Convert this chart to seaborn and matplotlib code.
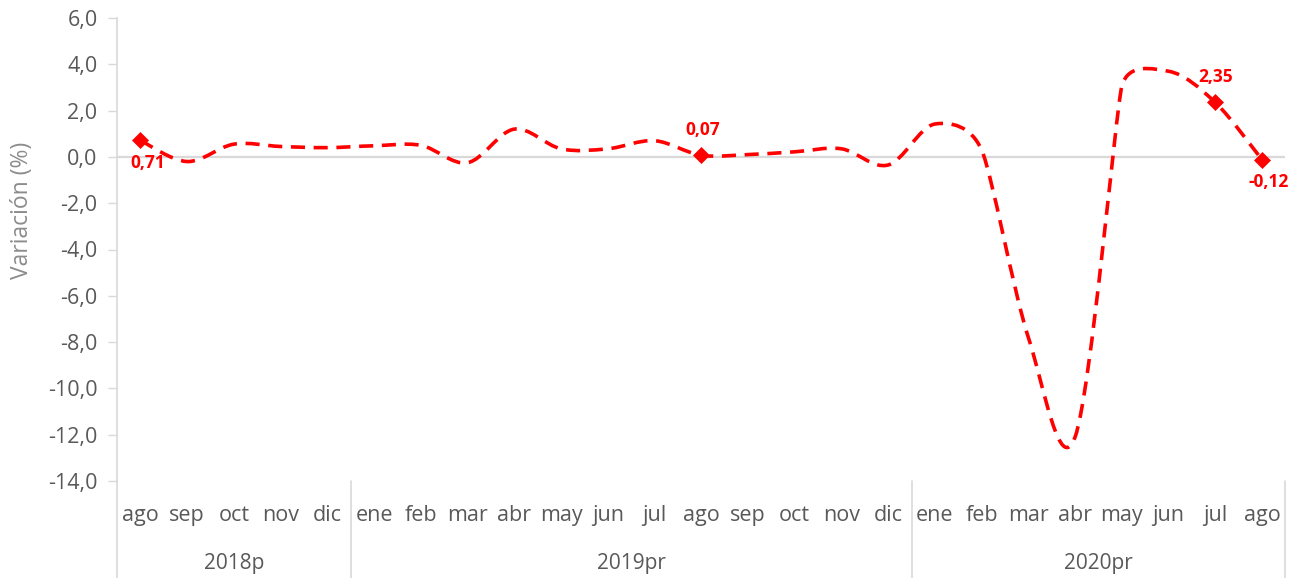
import numpy as np
import pandas as pd
import matplotlib
matplotlib.use("Agg")
import matplotlib.pyplot as plt
import seaborn as sns
from matplotlib.path import Path
from matplotlib.patches import PathPatch
import matplotlib.transforms as mtransforms

# ---------------- data ----------------
months = ["ago", "sep", "oct", "nov", "dic",
          "ene", "feb", "mar", "abr", "may", "jun", "jul", "ago", "sep", "oct", "nov", "dic",
          "ene", "feb", "mar", "abr", "may", "jun", "jul", "ago"]
years = ["2018p", "2019pr", "2020pr"]
year_counts = [5, 12, 8]
values = [0.71, -0.20, 0.55, 0.45, 0.40,
          0.48, 0.50, -0.25, 1.20, 0.35, 0.35, 0.70, 0.07, 0.10, 0.22, 0.35, -0.35,
          1.42, 0.30, -7.80, -12.10, 3.05, 3.70, 2.35, -0.12]
labeled_idx = [0, 12, 23, 24]
label_texts = ["0,71", "0,07", "2,35", "-0,12"]
yticks = [-14, -12, -10, -8, -6, -4, -2, 0, 2, 4, 6]
ytick_labels = ["-14,0", "-12,0", "-10,0", "-8,0", "-6,0", "-4,0", "-2,0",
                "0,0", "2,0", "4,0", "6,0"]

# ---------------- style ----------------
sns.set_style("white")
plt.rcParams['font.family'] = ['Open Sans', 'DejaVu Sans']

RED = "#FF0000"
GRAY_TXT = "#595959"
GRID = "#D9D9D9"

W, H = 1298, 578
fig = plt.figure(figsize=(W / 100, H / 100), dpi=100)
ax = fig.add_axes([117 / W, 1 - 481 / H, (1285.4 - 117) / W, (481 - 18) / H])

x = np.arange(len(values))
df = pd.DataFrame({"x": x, "v": values})

ax.set_xlim(-0.5, len(values) - 0.5)
ax.set_ylim(-14, 6)

# zero line (category axis)
ax.axhline(0, color=GRID, lw=1.6, zorder=1)

# ---------- smoothed line (Excel-like bezier smoothing) ----------
fig.canvas.draw()
pts = ax.transData.transform(np.column_stack([df["x"], df["v"]]))
n = len(pts)
arms = []
for i in range(n):
    p_prev = pts[i - 1] if i > 0 else pts[i]
    p_next = pts[i + 1] if i < n - 1 else pts[i]
    T = p_next - p_prev
    arm = T / 6.0
    dl = np.linalg.norm(pts[i] - p_prev) if i > 0 else np.inf
    dr = np.linalg.norm(p_next - pts[i]) if i < n - 1 else np.inf
    lim = min(dl, dr) / 2.0
    la = np.linalg.norm(arm)
    if la > lim and la > 0:
        arm = arm * lim / la
    arms.append(arm)
verts = [pts[0]]
codes = [Path.MOVETO]
for i in range(n - 1):
    verts += [pts[i] + arms[i], pts[i + 1] - arms[i + 1], pts[i + 1]]
    codes += [Path.CURVE4] * 3
verts_data = ax.transData.inverted().transform(np.array(verts))
patch = PathPatch(Path(verts_data, codes), facecolor="none", edgecolor=RED,
                  lw=2.6, linestyle=(0, (3.9, 2.4)), capstyle="butt",
                  transform=ax.transData, zorder=3)
ax.add_patch(patch)

# markers
sub = df.iloc[labeled_idx]
sns.scatterplot(data=sub, x="x", y="v", marker="D", s=75, color=RED,
                edgecolor=RED, linewidth=0, ax=ax, zorder=4, legend=False)

# data labels
offsets = [(5, -16), (1.4, 18), (0, 18), (5, -16)]
for idx, txt, off in zip(labeled_idx, label_texts, offsets):
    ax.annotate(txt, (idx, values[idx]), xytext=off, textcoords="offset points",
                ha="center", va="center", fontsize=12.5, fontweight="bold",
                color=RED, zorder=5)

# ---------- axes styling ----------
for s in ["top", "right", "bottom"]:
    ax.spines[s].set_visible(False)
ax.spines["left"].set_color(GRID)
ax.spines["left"].set_linewidth(1.2)

ax.set_yticks(yticks)
ax.set_yticklabels(ytick_labels)
ax.tick_params(axis="y", length=6.5, width=1, color=GRID, pad=7.5,
               labelsize=15.5, labelcolor=GRAY_TXT, left=True)
ax.set_xticks(x)
ax.set_xticklabels(months)
ax.tick_params(axis="x", length=0, pad=17, labelsize=15.5, labelcolor=GRAY_TXT,
               bottom=True)
ax.set_xlabel("")
ax.set_ylabel("")
ax.grid(False)

fig.text(22 / W, 1 - 210 / H, "Variación (%)", rotation=90, ha="center",
         va="center", fontsize=16.5, color="#8C8C8C")

# year group labels and separators
trans = mtransforms.blended_transform_factory(ax.transData, ax.transAxes)
y_year = (481 - 564) / (481 - 18)
y_bottom = (481 - 578) / (481 - 18)
start = 0
bounds = [-0.5]
for yr, cnt in zip(years, year_counts):
    center = start + (cnt - 1) / 2.0
    ax.text(center, y_year, yr, transform=trans, ha="center", va="center",
            fontsize=15, color=GRAY_TXT)
    start += cnt
    bounds.append(start - 0.5)
for b in bounds:
    ax.plot([b, b], [0, y_bottom], transform=trans, color=GRID, lw=1.2,
            clip_on=False, zorder=1)

fig.savefig("out.png", dpi=100)
